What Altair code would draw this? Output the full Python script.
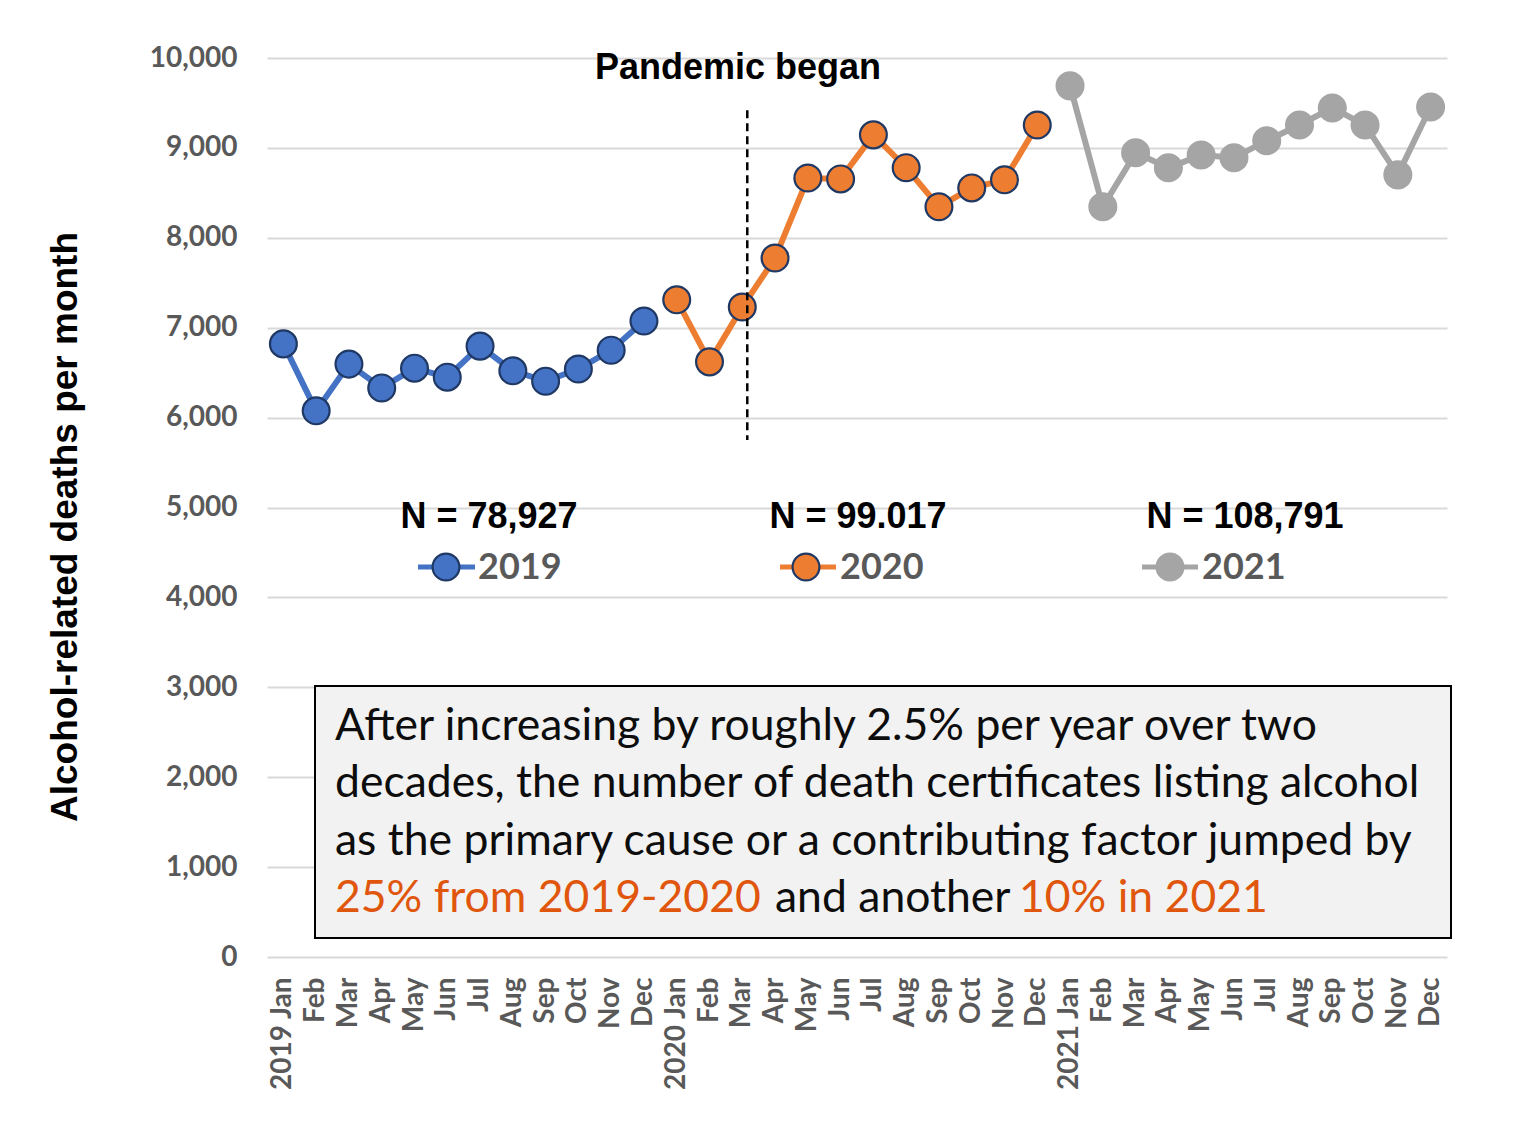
import altair as alt
import pandas as pd

months = ["Jan", "Feb", "Mar", "Apr", "May", "Jun", "Jul", "Aug", "Sep", "Oct", "Nov", "Dec"]
years = ["2019", "2020", "2021"]
deaths_2019 = [6820, 6075, 6595, 6330, 6550, 6450, 6795, 6520, 6405, 6540, 6750, 7075]
deaths_2020 = [7310, 6620, 7230, 7775, 8665, 8655, 9145, 8780, 8345, 8555, 8645, 9255]
deaths_2021 = [9690, 8345, 8945, 8780, 8920, 8890, 9080, 9255, 9445, 9255, 8700, 9455]
totals = ["N = 78,927", "N = 99.017", "N = 108,791"]
series_colors = ["#4472C4", "#ED7D31", "#A5A5A5"]
marker_edges = ["#1F3864", "#1F3864", "#A5A5A5"]
marker_sizes = [720, 720, 820]

rows = []
for yr, vals in zip(years, [deaths_2019, deaths_2020, deaths_2021]):
    for m, v in zip(months, vals):
        rows.append({"key": f"{yr} {m}", "year": yr, "deaths": v})
df = pd.DataFrame(rows)
order = list(df["key"])

W, H = 1180, 899

x_scale = alt.Scale(paddingInner=0, paddingOuter=0)
y_scale = alt.Scale(domain=[0, 10000], nice=False)
label_style = dict(labelFont="Lato", labelFontWeight="bold", labelFontSize=28, labelColor="#595959")
x_axis = alt.Axis(labelAngle=-90, labelPadding=20, ticks=False, domain=False, grid=False, title=None,
                  labelExpr="indexof(datum.value, 'Jan') >= 0 ? datum.value : slice(datum.value, 5)",
                  **label_style)
y_axis = alt.Axis(values=list(range(0, 10001, 1000)), labelExpr="format(datum.value, ',')",
                  ticks=False, domain=False, labelPadding=30, grid=True, gridColor="#D9D9D9",
                  gridWidth=2, title=None, **label_style)

color_enc = alt.Color("year:N", scale=alt.Scale(domain=years, range=series_colors), legend=None)
fill_enc = alt.Fill("year:N", scale=alt.Scale(domain=years, range=series_colors), legend=None)
stroke_enc = alt.Stroke("year:N", scale=alt.Scale(domain=years, range=marker_edges), legend=None)
size_enc = alt.Size("year:N", scale=alt.Scale(domain=years, range=marker_sizes), legend=None)

x_enc = alt.X("key:N", sort=order, title=None, scale=x_scale, axis=x_axis)
y_enc = alt.Y("deaths:Q", title=None, scale=y_scale, axis=y_axis)

base = alt.Chart(df)
lines = base.mark_line(strokeWidth=6).encode(x=x_enc, y=y_enc, color=color_enc, detail="year:N")
points = base.mark_point(filled=True, strokeWidth=2.2, opacity=1).encode(
    x=x_enc, y=y_enc, fill=fill_enc, stroke=stroke_enc, size=size_enc)

pand = pd.DataFrame({"key": ["2020 Mar"], "y1": [9420], "y2": [5750]})
rule = alt.Chart(pand).mark_rule(color="black", strokeWidth=2.5, strokeDash=[8, 5], xOffset=5).encode(
    x=alt.X("key:N", sort=order, title=None, scale=x_scale, axis=x_axis),
    y=alt.Y("y1:Q", title=None, scale=y_scale, axis=y_axis), y2="y2:Q")

pand_text = alt.Chart(pd.DataFrame({"t": ["Pandemic began"]})).mark_text(
    font="Liberation Sans", fontWeight="bold", fontSize=36, color="black", align="center", baseline="middle"
).encode(x=alt.value(471), y=alt.value(10), text="t:N")

ytitle = alt.Chart(pd.DataFrame({"t": ["Alcohol-related deaths per month"]})).mark_text(
    font="Liberation Sans", fontWeight="bold", fontSize=37, color="black", align="center",
    baseline="middle", angle=270
).encode(x=alt.value(-201), y=alt.value(469), text="t:N")

# Legend (manual) with totals
leg = pd.DataFrame({
    "year": years,
    "total": totals,
    "cx": [222, 591, 978],
    "lx1": [151, 513, 875],
    "lx2": [208, 569, 931],
    "px": [179, 539, 903],
    "tx": [211, 573, 935],
})
leg_lines = alt.Chart(leg).mark_rule(strokeWidth=5).encode(
    x=alt.X("lx1:Q", scale=None), x2="lx2:Q", y=alt.value(509), color=color_enc)
leg_pts = alt.Chart(leg).mark_point(filled=True, strokeWidth=2.2, opacity=1).encode(
    x=alt.X("px:Q", scale=None), y=alt.value(509), fill=fill_enc, stroke=stroke_enc, size=size_enc)
leg_text = alt.Chart(leg).mark_text(font="Lato", fontWeight="bold", fontSize=36, color="#595959",
                                    align="left", baseline="middle", dy=1).encode(
    x=alt.X("tx:Q", scale=None), y=alt.value(509), text="year:N")
tot_text = alt.Chart(leg).mark_text(font="Liberation Sans", fontWeight="bold", fontSize=36, color="black",
                                    align="center", baseline="middle").encode(
    x=alt.X("cx:Q", scale=None), y=alt.value(459), text="total:N")

# Annotation box
box = alt.Chart(pd.DataFrame({"a": [0]})).mark_rect(fill="#F2F2F2", stroke="black", strokeWidth=2).encode(
    x=alt.value(48), x2=alt.value(1184), y=alt.value(628), y2=alt.value(880))

ann_lines = ["After increasing by roughly 2.5% per year over two",
             "decades, the number of death certificates listing alcohol",
             "as the primary cause or a contributing factor jumped by"]
ann_df = pd.DataFrame({"t": ann_lines, "yy": [682, 739, 797]})
ann = alt.Chart(ann_df).mark_text(font="Lato", fontSize=44.5, color="#0D0D0D", align="left",
                                  baseline="alphabetic").encode(
    x=alt.value(68), y=alt.Y("yy:Q", scale=None), text="t:N")

last_segments = ["25% from 2019-2020", "and another", "10% in 2021"]
seg_df = pd.DataFrame({"t": last_segments, "xx": [68, 508, 752], "c": ["hi", "lo", "hi"]})
seg = alt.Chart(seg_df).mark_text(font="Lato", fontSize=44.5, align="left", baseline="alphabetic").encode(
    x=alt.X("xx:Q", scale=None), y=alt.value(854), text="t:N",
    color=alt.Color("c:N", scale=alt.Scale(domain=["hi", "lo"], range=["#E0560C", "#0D0D0D"]), legend=None))

chart = alt.layer(lines, points, rule, pand_text, ytitle, leg_lines, leg_pts, leg_text, tot_text,
                  box, ann, seg).resolve_scale(color="independent", fill="independent",
                                               stroke="independent", size="independent").properties(
    width=W, height=H,
    background="white",
    autosize=alt.AutoSizeParams(type="none"),
    padding={"left": 259, "top": 50, "right": 70, "bottom": 150},
).configure_view(stroke=None).configure_axis(**label_style)

chart.save("out.html", embed_options={"renderer": "svg", "actions": False})
